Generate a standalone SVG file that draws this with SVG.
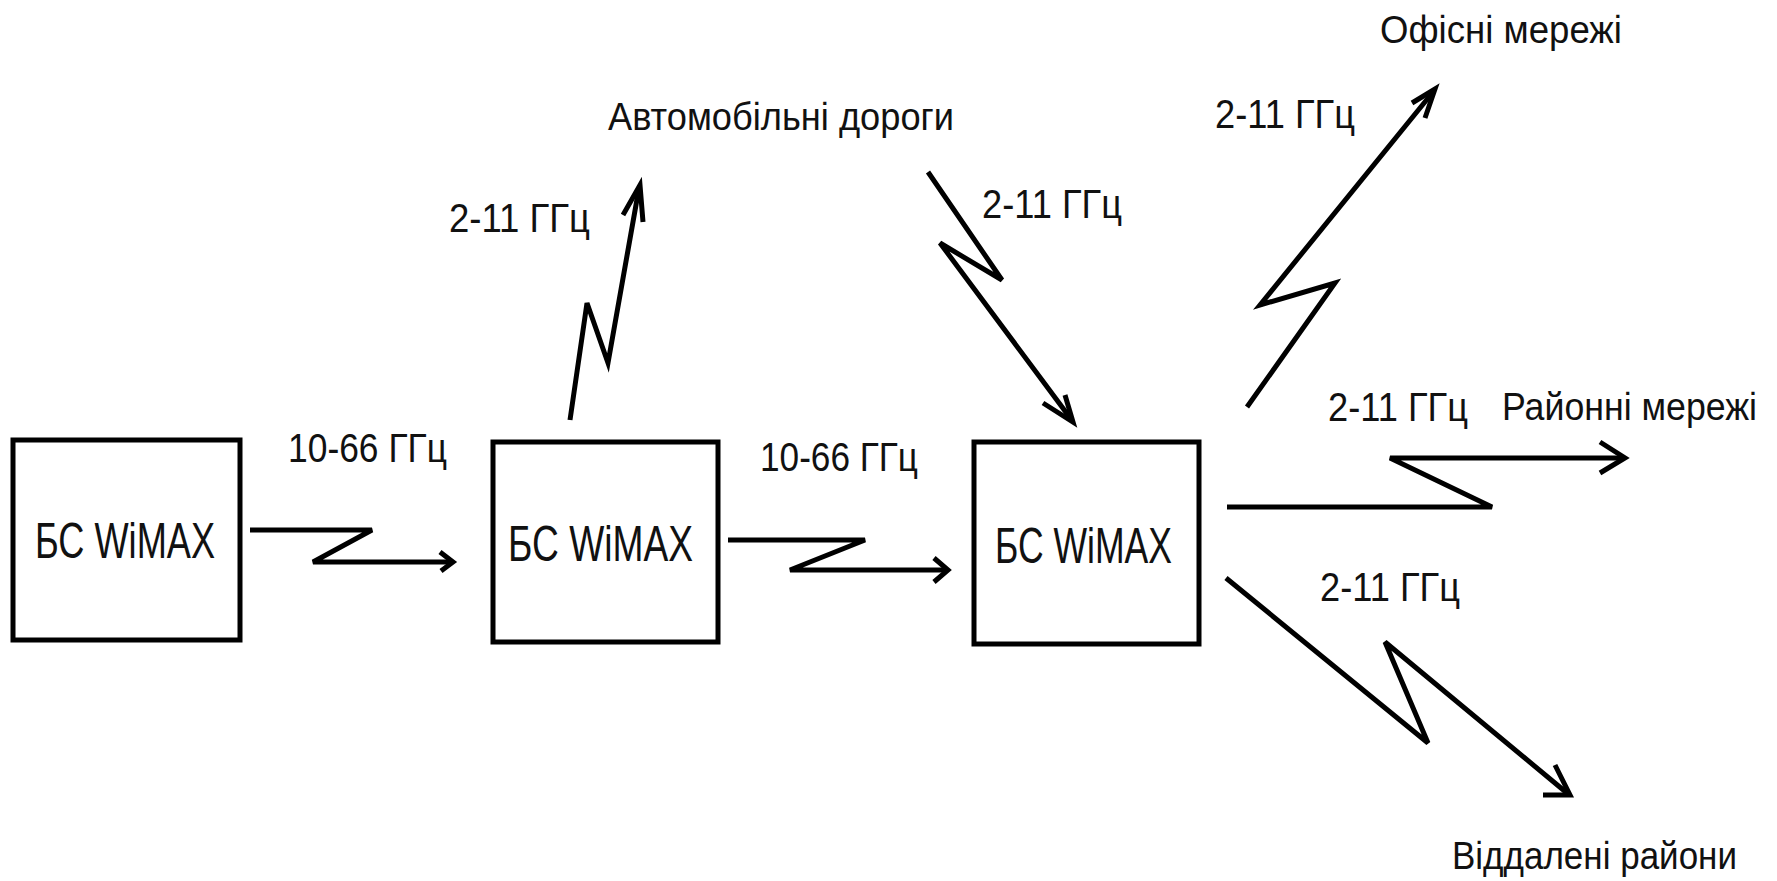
<svg xmlns="http://www.w3.org/2000/svg" width="1777" height="881" viewBox="0 0 1777 881">
<style>
.box{fill:#fff;stroke:#000;stroke-width:5}
.bt{font-family:"Liberation Sans",Arial,sans-serif;font-size:50px;fill:#111}
.ft{font-family:"Liberation Sans",Arial,sans-serif;font-size:40px;fill:#111}
.pt{font-family:"Liberation Sans",Arial,sans-serif;font-size:38px;fill:#111}
.ln{fill:none;stroke:#000;stroke-width:5;stroke-linejoin:miter;stroke-linecap:butt}
.ah{fill:none;stroke:#000;stroke-width:5;stroke-linejoin:miter}
</style>
<rect width="1777" height="881" fill="#fff"/>
<g id="bs1">
<rect class="box" x="13" y="440" width="227" height="200"/>
<text class="bt" x="35" y="558" textLength="180" lengthAdjust="spacingAndGlyphs">БС WiMAX</text>
</g>
<g id="bs2">
<rect class="box" x="493" y="442" width="225" height="200"/>
<text class="bt" x="508" y="561" textLength="185" lengthAdjust="spacingAndGlyphs">БС WiMAX</text>
</g>
<g id="bs3">
<rect class="box" x="974" y="442" width="225" height="202"/>
<text class="bt" x="995" y="563" textLength="177" lengthAdjust="spacingAndGlyphs">БС WiMAX</text>
</g>
<g id="place-labels">
<text class="pt" x="608" y="130" textLength="346" lengthAdjust="spacingAndGlyphs">Автомобільні дороги</text>
<text class="pt" x="1380" y="43" textLength="242" lengthAdjust="spacingAndGlyphs">Офісні мережі</text>
<text class="pt" x="1502" y="420" textLength="255" lengthAdjust="spacingAndGlyphs">Районні мережі</text>
<text class="pt" x="1452" y="869" textLength="285" lengthAdjust="spacingAndGlyphs">Віддалені райони</text>
</g>
<g id="connectors">
<polyline class="ln" points="250,530 372,530 313,562 451,562"/>
<polyline class="ah" points="440,552 453,562 441,571"/>
<text class="ft" x="288" y="462" textLength="159" lengthAdjust="spacingAndGlyphs">10-66 ГГц</text>

<polyline class="ln" points="728,540 865,540 790,570 946,570"/>
<polyline class="ah" points="934,558 948,570 934,582"/>
<text class="ft" x="760" y="471" textLength="158" lengthAdjust="spacingAndGlyphs">10-66 ГГц</text>

<polyline class="ln" points="570,420 587,303 608,363 639,188"/>
<polyline class="ah" points="623,215 640,185 643,222"/>
<text class="ft" x="449" y="232" textLength="141" lengthAdjust="spacingAndGlyphs">2-11 ГГц</text>

<polyline class="ln" points="928,172 1002,280 940,243 1071,419"/>
<polyline class="ah" points="1043,403 1073,422 1065,395"/>
<text class="ft" x="982" y="218" textLength="140" lengthAdjust="spacingAndGlyphs">2-11 ГГц</text>

<polyline class="ln" points="1247,407 1335,283 1260,305 1433,92"/>
<polyline class="ah" points="1412,103 1435,89 1425,118"/>
<text class="ft" x="1215" y="128" textLength="140" lengthAdjust="spacingAndGlyphs">2-11 ГГц</text>

<polyline class="ln" points="1227,507 1492,507 1390,458 1622,458"/>
<polyline class="ah" points="1600,442 1625,458 1600,473"/>
<text class="ft" x="1328" y="421" textLength="140" lengthAdjust="spacingAndGlyphs">2-11 ГГц</text>

<polyline class="ln" points="1226,578 1428,743 1385,642 1567,793"/>
<polyline class="ah" points="1543,795 1570,795 1555,765"/>
<text class="ft" x="1320" y="601" textLength="140" lengthAdjust="spacingAndGlyphs">2-11 ГГц</text>
</g>
</svg>
